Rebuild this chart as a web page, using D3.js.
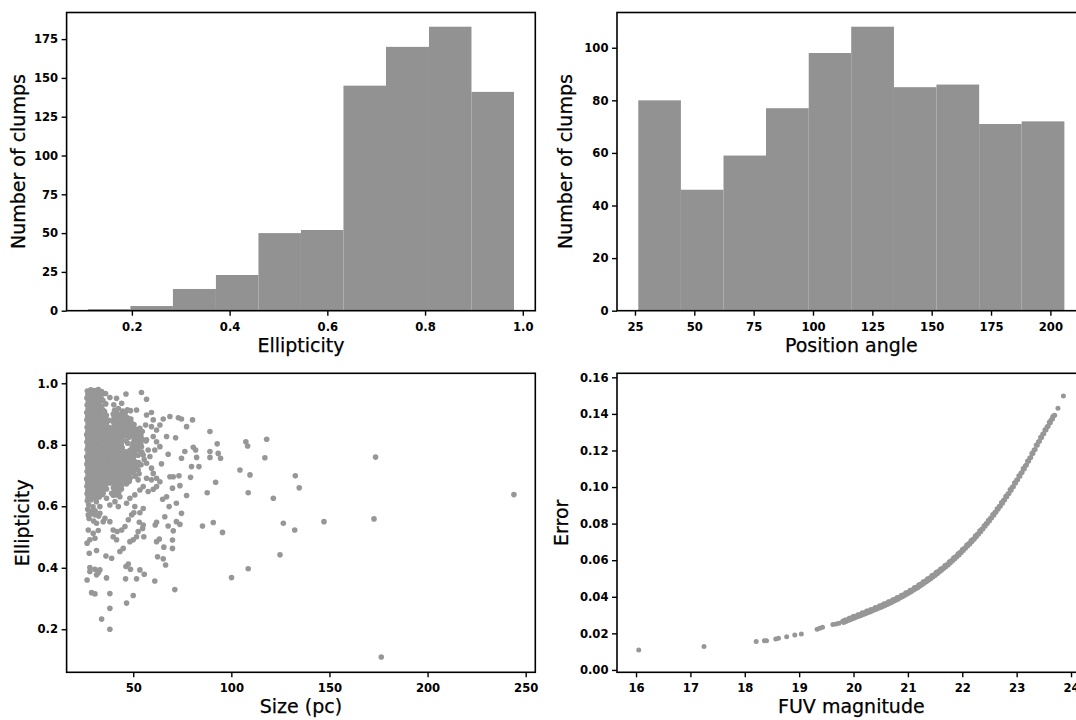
<!DOCTYPE html>
<html>
<head>
<meta charset="utf-8">
<script src="https://cdn.jsdelivr.net/npm/d3@7"></script>
<style>
  body { margin: 0; background: #fff; }
  svg text { font-family: "DejaVu Sans", sans-serif; fill: #000; }
  .tick text { font-size: 11.6px; font-weight: bold; }
  .axis-label { font-size: 19px; stroke: #000; stroke-width: 0.25px; }
</style>
</head>
<body>
<svg id="fig" width="1076" height="720"></svg>
<script>
// ---- Ellipticity histogram (10 bins) ----
const ellipticityBinEdges = [0.110, 0.197, 0.284, 0.372, 0.459, 0.546, 0.633, 0.720, 0.808, 0.895, 0.982];
const ellipticityCounts = [1, 3, 14, 23, 50, 52, 145, 170, 183, 141];
const ellipticityTicks = [0.2, 0.4, 0.6, 0.8, 1.0];
const ellipticityCountTicks = [0, 25, 50, 75, 100, 125, 150, 175];

// ---- Position angle histogram (10 bins) ----
const angleBinEdges = [26.4, 44.35, 62.3, 80.2, 98.2, 116.1, 134.1, 152.0, 170.0, 187.9, 205.9];
const angleCounts = [80, 46, 59, 77, 98, 108, 85, 86, 71, 72];
const angleTicks = [25, 50, 75, 100, 125, 150, 175, 200];
const angleCountTicks = [0, 20, 40, 60, 80, 100];

// ---- Size (pc) vs ellipticity ----
const sizeTicks = [50, 100, 150, 200, 250];
const ellTicks = [0.2, 0.4, 0.6, 0.8, 1.0];
// compact clumps, 26-39 pc
const smallClumps = [
  [26.6,0.975],[28.4,0.979],[30.3,0.976],[32.1,0.972],
  [26.9,0.963],[28.8,0.966],[30.7,0.962],[32.6,0.960],[34.2,0.965],
  [26.4,0.952],[28.2,0.955],[30.1,0.950],[31.9,0.953],[33.8,0.949],
  [27.1,0.940],[29.0,0.943],[30.9,0.938],[32.8,0.941],[34.6,0.944],
  [26.5,0.929],[28.3,0.931],[30.2,0.927],[32.0,0.930],[33.7,0.926],[36.0,0.933],
  [27.0,0.917],[28.9,0.919],[30.8,0.915],[32.7,0.918],[34.5,0.914],
  [26.3,0.905],[28.1,0.907],[30.0,0.903],[31.8,0.906],[33.6,0.902],[35.4,0.908],
  [26.8,0.893],[28.7,0.895],[30.6,0.891],[32.5,0.894],[34.3,0.890],[36.3,0.896],
  [26.4,0.881],[28.3,0.883],[30.2,0.879],[32.1,0.882],[33.9,0.878],[35.8,0.884],[37.6,0.880],
  [27.0,0.869],[28.9,0.871],[30.8,0.867],[32.7,0.870],[34.6,0.866],[36.5,0.872],
  [26.5,0.857],[28.4,0.859],[30.3,0.855],[32.2,0.858],[34.1,0.854],[36.0,0.860],[37.9,0.856],
  [26.9,0.845],[28.8,0.847],[30.7,0.843],[32.6,0.846],[34.5,0.842],[36.4,0.848],[38.3,0.844],
  [26.3,0.833],[28.2,0.835],[30.1,0.831],[32.0,0.834],[33.9,0.830],[35.8,0.836],[37.7,0.832],
  [26.8,0.821],[28.7,0.823],[30.6,0.819],[32.5,0.822],[34.4,0.818],[36.3,0.824],[38.2,0.820],
  [26.4,0.809],[28.3,0.811],[30.2,0.807],[32.1,0.810],[34.0,0.806],[35.9,0.812],[37.8,0.808],
  [26.9,0.797],[28.8,0.799],[30.7,0.795],[32.6,0.798],[34.5,0.794],[36.4,0.800],[38.3,0.796],
  [26.5,0.785],[28.4,0.787],[30.3,0.783],[32.2,0.786],[34.1,0.782],[36.0,0.788],[37.9,0.784],
  [27.0,0.773],[28.9,0.775],[30.8,0.771],[32.7,0.774],[34.6,0.770],[36.5,0.776],[38.4,0.772],
  [26.3,0.761],[28.2,0.763],[30.1,0.759],[32.0,0.762],[33.9,0.758],[35.8,0.764],[37.7,0.760],
  [26.8,0.749],[28.7,0.751],[30.6,0.747],[32.5,0.750],[34.4,0.746],[36.3,0.752],[38.2,0.748],
  [26.4,0.737],[28.3,0.739],[30.2,0.735],[32.1,0.738],[34.0,0.734],[35.9,0.740],[37.8,0.736],
  [26.9,0.725],[28.8,0.727],[30.7,0.723],[32.6,0.726],[34.5,0.722],[36.4,0.728],[38.3,0.724],
  [26.5,0.713],[28.4,0.715],[30.3,0.711],[32.2,0.714],[34.1,0.710],[36.0,0.716],[37.9,0.712],
  [27.0,0.701],[28.9,0.703],[30.8,0.699],[32.7,0.702],[34.6,0.698],[36.5,0.704],[38.4,0.700],
  [26.3,0.689],[28.2,0.691],[30.1,0.687],[32.0,0.690],[33.9,0.686],[35.8,0.692],[37.7,0.688],
  [26.8,0.677],[28.7,0.679],[30.6,0.675],[32.5,0.678],[34.4,0.674],[36.3,0.680],[38.2,0.676],
  [26.4,0.665],[28.3,0.667],[30.2,0.663],[32.1,0.666],[34.0,0.662],[35.9,0.668],
  [26.9,0.653],[28.8,0.655],[30.7,0.651],[32.6,0.654],[34.5,0.650],[36.4,0.656],
  [26.5,0.641],[28.4,0.643],[30.3,0.639],[32.2,0.642],[34.1,0.638],
  [27.0,0.629],[28.9,0.631],[30.8,0.627],[32.7,0.630],
  [26.6,0.618],[28.5,0.621],[31.2,0.615],
  [27.3,0.605],[29.5,0.598],[26.8,0.590],[30.6,0.585],[28.2,0.575],[32.4,0.568],[27.5,0.560],[29.8,0.552]
];
// intermediate clumps, 39-57 pc
const midClumps = [
  [40.5,0.912],[42.4,0.918],[44.6,0.910],[47.0,0.914],
  [39.8,0.900],[41.8,0.902],[43.9,0.898],[45.9,0.903],
  [40.2,0.888],[42.2,0.890],[44.3,0.886],[46.5,0.889],[48.8,0.884],
  [39.7,0.876],[41.7,0.878],[43.6,0.874],[45.7,0.877],[47.8,0.873],
  [40.3,0.864],[42.3,0.866],[44.4,0.862],[46.4,0.865],[48.5,0.861],[50.4,0.866],
  [39.9,0.852],[41.9,0.854],[43.9,0.850],[46.0,0.853],[48.0,0.849],[50.0,0.854],[52.0,0.850],
  [40.4,0.840],[42.4,0.842],[44.5,0.838],[46.5,0.841],[48.6,0.837],[50.6,0.842],[52.7,0.838],[54.6,0.843],
  [39.8,0.828],[41.8,0.830],[43.8,0.826],[45.8,0.829],[47.9,0.825],[49.9,0.830],[51.9,0.826],[53.9,0.831],
  [40.3,0.816],[42.3,0.818],[44.3,0.814],[46.4,0.812],[50.5,0.818],[52.5,0.814],[54.5,0.819],[56.5,0.812],
  [39.9,0.804],[41.9,0.806],[43.9,0.802],[47.2,0.805],[49.9,0.806],[51.9,0.802],[53.9,0.807],
  [40.4,0.792],[42.4,0.794],[44.4,0.790],[49.5,0.794],[51.5,0.790],[53.4,0.795],
  [39.8,0.780],[41.8,0.782],[43.8,0.778],[46.2,0.777],[48.3,0.782],[50.3,0.778],[52.3,0.783],[54.4,0.776],
  [40.3,0.768],[42.3,0.770],[44.3,0.766],[46.4,0.769],[48.4,0.765],[50.5,0.770],[52.5,0.766],
  [39.9,0.756],[41.9,0.758],[43.9,0.754],[46.0,0.757],[48.0,0.753],[50.1,0.758],[55.6,0.752],
  [40.4,0.744],[42.4,0.746],[44.4,0.742],[46.5,0.745],[48.5,0.741],[50.6,0.746],[52.7,0.742],
  [39.8,0.732],[41.8,0.734],[43.8,0.730],[45.8,0.733],[47.9,0.729],[49.9,0.734],[52.0,0.730],[54.0,0.735],
  [40.3,0.720],[42.3,0.722],[44.3,0.718],[46.3,0.721],[48.4,0.717],[50.4,0.722],[52.5,0.718],
  [39.9,0.708],[41.9,0.710],[43.9,0.706],[46.0,0.709],[48.0,0.705],[50.0,0.710],[53.0,0.706],
  [40.4,0.696],[42.4,0.698],[44.4,0.694],[46.4,0.697],[48.5,0.693],[51.0,0.698],
  [39.8,0.684],[41.8,0.686],[43.8,0.682],[45.9,0.685],[48.0,0.681],
  [40.3,0.672],[42.3,0.674],[44.3,0.670],[46.6,0.673],
  [39.9,0.660],[41.9,0.662],[44.0,0.656],
  [40.4,0.648],[42.6,0.645],
  [39.8,0.636]
];
// scattered clumps around the core
const looseClumps = [
  [54.2,0.970],[56.8,0.948],[46.3,0.965],[51.7,0.913],[56.8,0.897],[59.3,0.905],[65.3,0.884],[68.7,0.892],
  [73.0,0.888],[74.6,0.884],[80.2,0.881],[77.2,0.859],[89.1,0.843],[67.0,0.827],[71.6,0.823],[61.9,0.810],
  [63.6,0.794],[80.6,0.792],[81.8,0.783],[92.8,0.803],[93.3,0.772],[94.5,0.756],[89.1,0.778],[89.1,0.759],
  [82.3,0.759],[83.5,0.729],[79.7,0.729],[76.3,0.778],[74.6,0.756],[67.8,0.769],[64.4,0.738],[68.7,0.696],
  [70.4,0.696],[73.3,0.699],[79.2,0.694],[73.8,0.667],[92.0,0.678],[77.2,0.635],[70.0,0.659],[67.0,0.631],
  [65.0,0.623],[68.3,0.599],[72.0,0.610],[74.6,0.577],[72.0,0.550],[73.8,0.541],[70.4,0.520],[67.8,0.536],
  [66.1,0.566],[61.9,0.548],[61.2,0.539],[63.3,0.493],[61.9,0.485],[70.0,0.490],[70.0,0.463],[65.6,0.467],
  [65.3,0.429],[66.5,0.409],[62.4,0.436],[61.0,0.357],[71.2,0.329],[55.6,0.379],[51.7,0.364],[46.1,0.364],
  [50.0,0.310],[46.6,0.285],[38.1,0.316],[38.1,0.268],[33.9,0.233],[38.1,0.200],[36.4,0.367],[39.0,0.431],
  [36.1,0.438],[31.3,0.456],[27.6,0.447],[28.8,0.319],[30.5,0.315],[26.5,0.360],[27.9,0.388],[30.5,0.395],
  [32.2,0.384],[27.9,0.401],[33.0,0.393],[31.3,0.377],[48.6,0.395],[47.5,0.412],[46.3,0.404],[53.4,0.393],
  [43.2,0.453],[44.9,0.463],[48.3,0.485],[50.0,0.491],[51.7,0.501],[52.5,0.518],[54.8,0.528],[55.4,0.501],
  [55.1,0.539],[53.1,0.548],[41.5,0.491],[39.8,0.523],[41.8,0.518],[44.1,0.523],[38.1,0.550],[39.8,0.501],
  [45.8,0.534],[47.5,0.556],[49.2,0.572],[50.3,0.579],[53.4,0.579],[55.1,0.593],[50.8,0.599],[46.6,0.610],
  [42.4,0.599],[40.7,0.615],[38.1,0.604],[33.0,0.599],[33.0,0.577],[30.5,0.572],[28.8,0.583],[27.1,0.572],
  [27.1,0.523],[29.6,0.512],[32.2,0.521],[31.3,0.545],[27.9,0.491],[26.5,0.480],[30.5,0.496],[34.7,0.550],
  [35.6,0.561],[36.4,0.626],[34.7,0.642],[39.0,0.642],[41.5,0.637],[43.2,0.631],[48.3,0.626],[50.8,0.637],
  [53.4,0.653],[55.1,0.664],[57.6,0.648],[60.2,0.655],[61.9,0.664],[59.3,0.686],[56.8,0.691],[52.5,0.686],
  [60.2,0.707],[61.9,0.691],[63.6,0.680],[59.3,0.724],[56.8,0.740],[58.5,0.762],[55.1,0.767],[57.6,0.783],
  [61.0,0.783],[54.2,0.794],[56.8,0.816],[53.4,0.821],[60.2,0.827],[61.9,0.848],[59.3,0.859],[63.6,0.864],
  [60.2,0.881],[56.3,0.864],[53.4,0.854],[49.2,0.870],[48.3,0.848],[51.7,0.837],[47.5,0.886],[44.9,0.897],
  [48.6,0.911],[44.1,0.935],[41.5,0.951],[40.1,0.930],[38.1,0.954],[35.9,0.967],[33.9,0.973],[32.2,0.980]
];
// large clumps
const largeClumps = [
  [104.4,0.718],[109.5,0.702],[108.6,0.644],[107.4,0.810],[108.3,0.796],[118.0,0.818],[117.1,0.758],
  [121.4,0.626],[100.1,0.368],[108.6,0.397],[124.8,0.442],[126.5,0.545],[90.8,0.547],[85.3,0.536],
  [95.5,0.515],[87.7,0.644],[132.6,0.699],[134.6,0.660],[132.3,0.523],[147.2,0.550],[173.5,0.760],
  [172.7,0.559],[244.0,0.638],[176.4,0.110]
];

// ---- FUV magnitude vs photometric error ----
const magTicks = [16, 17, 18, 19, 20, 21, 22, 23, 24];
const errTicks = [0.00, 0.02, 0.04, 0.06, 0.08, 0.10, 0.12, 0.14, 0.16];
const brightSources = [
  [16.05,0.0109],[17.25,0.0128],[18.21,0.0155],[18.36,0.0159],[18.40,0.0160],[18.57,0.0169],
  [18.62,0.0173],[18.77,0.0182],[18.92,0.0191],[19.04,0.0197],[19.33,0.0222],[19.38,0.0228],
  [19.43,0.0233],[19.62,0.0248],[19.68,0.0251],[19.73,0.0255]
];
const faintSources = [
  [19.80,0.0266],[19.84,0.0273],[19.88,0.0274],[19.92,0.0282],[19.96,0.0285],[20.00,0.0294],
  [20.04,0.0294],[20.08,0.0302],[20.12,0.0303],[20.16,0.0312],[20.20,0.0313],[20.24,0.0322],
  [20.28,0.0323],[20.32,0.0331],[20.36,0.0332],[20.40,0.0341],[20.44,0.0342],[20.48,0.0351],
  [20.52,0.0353],[20.56,0.0362],[20.60,0.0363],[20.64,0.0373],[20.68,0.0374],[20.72,0.0384],
  [20.76,0.0386],[20.80,0.0396],[20.84,0.0398],[20.88,0.0409],[20.92,0.0411],[20.96,0.0422],
  [21.00,0.0425],[21.04,0.0436],[21.08,0.0439],[21.12,0.0451],[21.16,0.0454],[21.20,0.0466],
  [21.24,0.0470],[21.28,0.0482],[21.32,0.0486],[21.36,0.0499],[21.40,0.0503],[21.44,0.0516],
  [21.48,0.0521],[21.52,0.0534],[21.56,0.0539],[21.60,0.0552],[21.64,0.0558],[21.68,0.0571],
  [21.72,0.0577],[21.76,0.0592],[21.80,0.0598],[21.84,0.0613],[21.88,0.0620],[21.92,0.0635],
  [21.96,0.0643],[22.00,0.0659],[22.04,0.0667],[22.08,0.0683],[22.12,0.0691],[22.16,0.0708],
  [22.20,0.0716],[22.24,0.0734],[22.28,0.0743],[22.32,0.0761],[22.36,0.0771],[22.40,0.0789],
  [22.44,0.0800],[22.48,0.0819],[22.52,0.0831],[22.56,0.0850],[22.60,0.0862],[22.64,0.0882],
  [22.68,0.0895],[22.72,0.0915],[22.76,0.0929],[22.80,0.0950],[22.84,0.0964],[22.88,0.0986],
  [22.92,0.1000],[22.96,0.1023],[23.00,0.1038],[23.04,0.1062],[23.08,0.1077],[23.12,0.1101],
  [23.16,0.1117],[23.20,0.1142],[23.24,0.1159],[23.28,0.1185],[23.32,0.1203],[23.36,0.1230],
  [23.40,0.1248],[23.44,0.1272],[23.48,0.1290],[23.52,0.1314],[23.56,0.1330],[23.60,0.1354],
  [23.63,0.1365],[23.66,0.1383],[23.68,0.1390],[23.76,0.1431],[23.86,0.1498]
];
// sources lying on the low-error side of the band
const faintSourcesLow = [
  [19.82,0.0260],[19.86,0.0265],[19.90,0.0270],[19.94,0.0275],[19.98,0.0280],[20.02,0.0284],
  [20.06,0.0289],[20.10,0.0293],[20.14,0.0298],[20.18,0.0303],[20.22,0.0307],[20.26,0.0312],
  [20.30,0.0317],[20.34,0.0322],[20.38,0.0327],[20.42,0.0332],[20.46,0.0337],[20.50,0.0342],
  [20.54,0.0347],[20.58,0.0352],[20.62,0.0358],[20.66,0.0363],[20.70,0.0369],[20.74,0.0375],
  [20.78,0.0381],[20.82,0.0387],[20.86,0.0394],[20.90,0.0400],[20.94,0.0407],[20.98,0.0414],
  [21.02,0.0421],[21.06,0.0428],[21.10,0.0435],[21.14,0.0443],[21.18,0.0450],[21.22,0.0458],
  [21.26,0.0466],[21.30,0.0474],[21.34,0.0482],[21.38,0.0491],[21.42,0.0499],[21.46,0.0508],
  [21.50,0.0517],[21.54,0.0526],[21.58,0.0535],[21.62,0.0545],[21.66,0.0554],[21.70,0.0564],
  [21.74,0.0574],[21.78,0.0585],[21.82,0.0595],[21.86,0.0606],[21.90,0.0617],[21.94,0.0629],
  [21.98,0.0641],[22.02,0.0653],[22.06,0.0665],[22.10,0.0677],[22.14,0.0689],[22.18,0.0702],
  [22.22,0.0715],[22.26,0.0728],[22.30,0.0742],[22.34,0.0756],[22.38,0.0770],[22.42,0.0785],
  [22.46,0.0800],[22.50,0.0815],[22.54,0.0831],[22.58,0.0846],[22.62,0.0862],[22.66,0.0879],
  [22.70,0.0895],[22.74,0.0912],[22.78,0.0929],[22.82,0.0947],[22.86,0.0965],[22.90,0.0983],
  [22.94,0.1002],[22.98,0.1021],[23.02,0.1040],[23.06,0.1059],[23.10,0.1079],[23.14,0.1099],
  [23.18,0.1120],[23.22,0.1141],[23.26,0.1162],[23.30,0.1184],[23.34,0.1206],[23.38,0.1229],
  [23.42,0.1250],[23.46,0.1271],[23.50,0.1292],[23.54,0.1312],[23.58,0.1332],[23.62,0.1352],
  [23.66,0.1372],[23.70,0.1392]
];

// ---- layout ----
const svg = d3.select("#fig");
svg.append("rect").attr("width", 1076).attr("height", 720).attr("fill", "#fff");

const colLeft = [66.6, 617];
const colWidth = 468.7;
const rowTop = [12.5, 373.3];
const rowBottom = [310.7, 672.3];

const histColor = "#929292";
const dotColor = "#979797";

function panel(col, row) {
  return { x0: colLeft[col], x1: colLeft[col] + colWidth, y0: rowTop[row], y1: rowBottom[row] };
}

function drawFrame(p, x, y, opts) {
  const g = svg.append("g");
  const xAxis = g.append("g")
    .attr("transform", `translate(0,${p.y1})`)
    .call(d3.axisBottom(x).tickValues(opts.xTicks).tickFormat(opts.xFmt)
      .tickSize(5).tickSizeOuter(0).tickPadding(4));
  const yAxis = g.append("g")
    .attr("transform", `translate(${p.x0},0)`)
    .call(d3.axisLeft(y).tickValues(opts.yTicks).tickFormat(opts.yFmt)
      .tickSize(5).tickSizeOuter(0).tickPadding(3.5));
  [xAxis, yAxis].forEach(a => {
    a.select(".domain").remove();
    a.selectAll(".tick line").attr("stroke", "#000").attr("stroke-width", 1.4);
    a.selectAll(".tick text").attr("font-family", null).attr("font-size", null);
  });
  xAxis.selectAll(".tick text").attr("dy", "0.95em");
  // frame
  g.append("rect")
    .attr("x", p.x0).attr("y", p.y0)
    .attr("width", p.x1 - p.x0).attr("height", p.y1 - p.y0)
    .attr("fill", "none").attr("stroke", "#000").attr("stroke-width", 1.6);
  // labels
  g.append("text").attr("class", "axis-label")
    .attr("x", (p.x0 + p.x1) / 2).attr("y", p.y1 + 41)
    .attr("text-anchor", "middle").text(opts.xLabel);
  g.append("text").attr("class", "axis-label")
    .attr("transform", `translate(${opts.yLabelX},${(p.y0 + p.y1) / 2}) rotate(-90)`)
    .attr("text-anchor", "middle").text(opts.yLabel);
}

function drawHist(p, edges, counts, xDomain, yMax, opts) {
  const x = d3.scaleLinear().domain(xDomain).range([p.x0, p.x1]);
  const y = d3.scaleLinear().domain([0, yMax]).range([p.y1, p.y0]);
  const bins = counts.map((c, i) => ({ lo: edges[i], hi: edges[i + 1], c }));
  svg.append("g").selectAll("rect").data(bins).join("rect")
    .attr("x", d => x(d.lo)).attr("width", d => x(d.hi) - x(d.lo))
    .attr("y", d => y(d.c)).attr("height", d => y(0) - y(d.c))
    .attr("fill", histColor);
  drawFrame(p, x, y, opts);
}

function drawScatter(p, points, xDomain, yDomain, r, opts) {
  const x = d3.scaleLinear().domain(xDomain).range([p.x0, p.x1]);
  const y = d3.scaleLinear().domain(yDomain).range([p.y1, p.y0]);
  svg.append("g").selectAll("circle").data(points).join("circle")
    .attr("cx", d => x(d[0])).attr("cy", d => y(d[1])).attr("r", r)
    .attr("fill", dotColor);
  drawFrame(p, x, y, opts);
}

// top-left: ellipticity histogram
drawHist(panel(0, 0), ellipticityBinEdges, ellipticityCounts, [0.0664, 1.0256], 192.15, {
  xTicks: ellipticityTicks, xFmt: d3.format(".1f"),
  yTicks: ellipticityCountTicks, yFmt: d3.format("d"),
  xLabel: "Ellipticity", yLabel: "Number of clumps", yLabelX: 24.5
});

// top-right: position angle histogram
drawHist(panel(1, 0), angleBinEdges, angleCounts, [17.43, 214.88], 113.4, {
  xTicks: angleTicks, xFmt: d3.format("d"),
  yTicks: angleCountTicks, yFmt: d3.format("d"),
  xLabel: "Position angle", yLabel: "Number of clumps", yLabelX: 572
});

// bottom-left: size vs ellipticity
drawScatter(panel(0, 1), smallClumps.concat(midClumps, looseClumps, largeClumps),
  [16.05, 254.9], [0.060, 1.0325], 2.8, {
  xTicks: sizeTicks, xFmt: d3.format("d"),
  yTicks: ellTicks, yFmt: d3.format(".1f"),
  xLabel: "Size (pc)", yLabel: "Ellipticity", yLabelX: 28.5
});

// bottom-right: FUV magnitude vs error
drawScatter(panel(1, 1), brightSources.concat(faintSources, faintSourcesLow),
  [15.65, 24.27], [-0.0013, 0.1622], 2.5, {
  xTicks: magTicks, xFmt: d3.format("d"),
  yTicks: errTicks, yFmt: d3.format(".2f"),
  xLabel: "FUV magnitude", yLabel: "Error", yLabelX: 568
});
</script>
</body>
</html>
